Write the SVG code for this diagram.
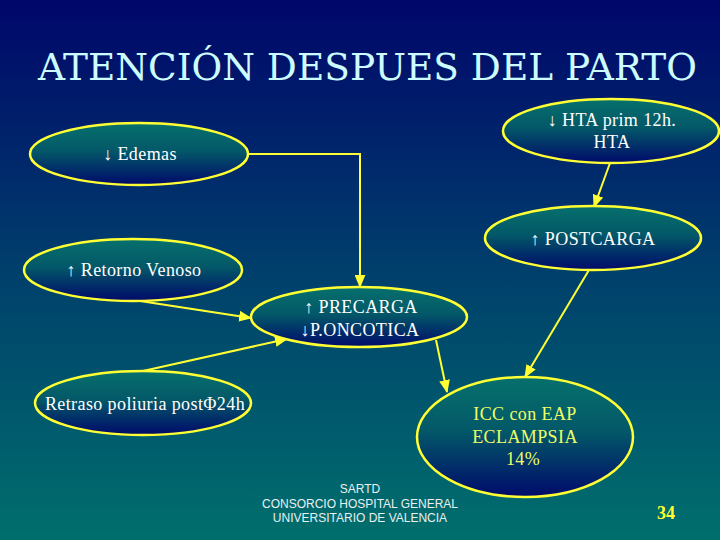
<svg xmlns="http://www.w3.org/2000/svg" width="720" height="540" viewBox="0 0 720 540">
<defs>
<linearGradient id="bg" x1="0" y1="0" x2="0" y2="1">
<stop offset="0" stop-color="#00066a"/>
<stop offset="0.5" stop-color="#003f6c"/>
<stop offset="1" stop-color="#006f6c"/>
</linearGradient>
<linearGradient id="nf" x1="0" y1="0" x2="0" y2="1">
<stop offset="0" stop-color="#06706c"/>
<stop offset="0.45" stop-color="#035868"/>
<stop offset="1" stop-color="#000a6a"/>
</linearGradient>
<marker id="ah" viewBox="0 0 12 10" refX="11" refY="5" markerWidth="13" markerHeight="11" markerUnits="userSpaceOnUse" orient="auto">
<path d="M0,0 L12,5 L0,10 Z" fill="#ffff33"/>
</marker>
<style>
.title{font-family:"DejaVu Serif",serif;font-size:38px;fill:#ccfcff}
.node{fill:url(#nf);stroke:#ffff33;stroke-width:2.5}
.lbl{font-family:"Liberation Serif","DejaVu Serif",serif;font-size:18px;fill:#ffffff;text-anchor:middle;letter-spacing:0.4px}
.ylbl{font-family:"Liberation Serif","DejaVu Serif",serif;font-size:18px;fill:#eeff66;text-anchor:middle;letter-spacing:0.4px}
.con{fill:none;stroke:#ffff33;stroke-width:2;marker-end:url(#ah)}
.foot{font-family:"Liberation Sans",Arial,sans-serif;font-size:12px;fill:#e8f0f0;text-anchor:middle}
.num{font-family:"Liberation Serif","DejaVu Serif",serif;font-size:18px;font-weight:bold;fill:#ffff33;text-anchor:middle}
</style>
</defs>
<rect x="0" y="0" width="720" height="540" fill="url(#bg)"/>
<g id="title">
<text class="title" x="38" y="80" textLength="659" lengthAdjust="spacingAndGlyphs">ATENCIÓN DESPUES DEL PARTO</text>
</g>

<g id="connectors">
<path class="con" d="M248,154 H360 V287"/>
<path class="con" d="M610,163 L594,207"/>
<path class="con" d="M589,270 L525,377"/>
<path class="con" d="M436,340 L447,392"/>
<path class="con" d="M140,301 L251,318"/>
<path class="con" d="M143,371 L287,339"/>
</g>

<g id="edemas">
<ellipse class="node" cx="139" cy="154" rx="109" ry="31"/>
<text class="lbl" x="140" y="160">↓ Edemas</text>
</g>
<g id="retorno">
<ellipse class="node" cx="133" cy="270" rx="109" ry="31"/>
<text class="lbl" x="134" y="276">↑ Retorno Venoso</text>
</g>
<g id="hta">
<ellipse class="node" cx="611" cy="131" rx="108" ry="32"/>
<text class="lbl" x="612" y="126">↓ HTA prim 12h.</text>
<text class="lbl" x="612" y="148">HTA</text>
</g>
<g id="postcarga">
<ellipse class="node" cx="593" cy="238" rx="108" ry="32"/>
<text class="lbl" x="593" y="245">↑ POSTCARGA</text>
</g>
<g id="precarga">
<ellipse class="node" cx="359" cy="317" rx="108" ry="30"/>
<text class="lbl" x="361" y="313">↑ PRECARGA</text>
<text class="lbl" x="360" y="336">↓P.ONCOTICA</text>
</g>
<g id="retraso">
<ellipse class="node" cx="143" cy="403" rx="108" ry="32"/>
<text class="lbl" x="145" y="410">Retraso poliuria postΦ24h</text>
</g>
<g id="icc">
<ellipse class="node" cx="525" cy="437" rx="108" ry="60"/>
<text class="ylbl" x="525" y="420">ICC con EAP</text>
<text class="ylbl" x="525" y="443">ECLAMPSIA</text>
<text class="ylbl" x="523" y="465">14%</text>
</g>

<text class="foot" x="360" y="493">SARTD</text>
<text class="foot" x="360" y="508">CONSORCIO HOSPITAL GENERAL</text>
<text class="foot" x="360" y="522">UNIVERSITARIO DE VALENCIA</text>
<text class="num" x="666" y="519">34</text>
</svg>
